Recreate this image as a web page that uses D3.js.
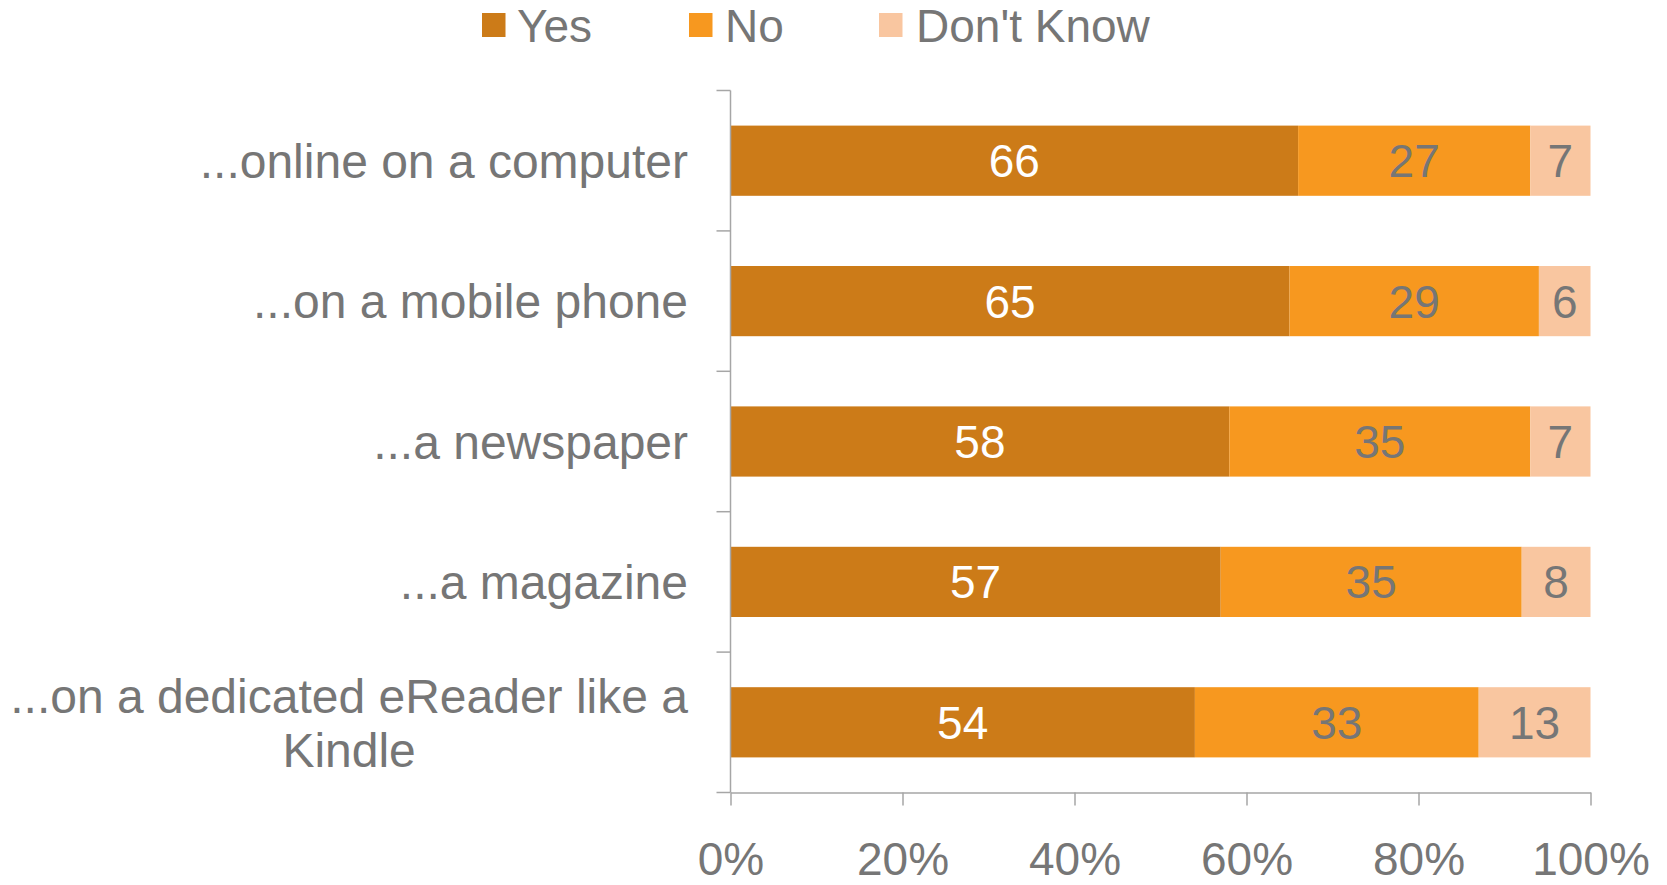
<!DOCTYPE html>
<html>
<head>
<meta charset="utf-8">
<script src="https://cdn.jsdelivr.net/npm/d3@7"></script>
<style>
  html, body { margin: 0; padding: 0; background: #fff; }
  svg { display: block; }
  text { font-family: "Liberation Sans", Arial, sans-serif; }
</style>
</head>
<body>
<svg id="chart" width="1667" height="885"></svg>
<script>
const categories = [
  "...online on a computer",
  "...on a mobile phone",
  "...a newspaper",
  "...a magazine",
  "...on a dedicated eReader like a Kindle"
];
const seriesNames = ["Yes", "No", "Don't Know"];
const yesValues = [66, 65, 58, 57, 54];
const noValues = [27, 29, 35, 35, 33];
const dkValues = [7, 6, 7, 8, 13];
const tickValues = [0, 20, 40, 60, 80, 100];
const tickLabels = ["0%", "20%", "40%", "60%", "80%", "100%"];

const colors = ["#CC7B18", "#F7981F", "#F9C6A0"];
const labelColors = ["#FFFFFF", "#767676", "#767676"];
const textGray = "#767676";
const axisGray = "#A6A6A6";

const svg = d3.select("#chart");

const rows = categories.map((c, i) => ({ cat: c, "Yes": yesValues[i], "No": noValues[i], "Don't Know": dkValues[i] }));
const stacked = d3.stack().keys(seriesNames)(rows);

const x = d3.scaleLinear().domain([0, 100]).range([730.5, 1590.5]);
const y = d3.scaleBand().domain(categories).range([90.5, 792.5]).paddingInner(0.5).paddingOuter(0.25);

// bars
const g = svg.append("g");
stacked.forEach((s, si) => {
  const sg = g.append("g");
  sg.selectAll("rect").data(s).enter().append("rect")
    .attr("x", d => x(d[0]))
    .attr("y", d => y(d.data.cat))
    .attr("width", d => x(d[1]) - x(d[0]))
    .attr("height", y.bandwidth())
    .attr("fill", colors[si]);
  sg.selectAll("text").data(s).enter().append("text")
    .attr("x", d => (x(d[0]) + x(d[1])) / 2)
    .attr("y", d => y(d.data.cat) + y.bandwidth() / 2)
    .attr("dy", "0.36em")
    .attr("text-anchor", "middle")
    .attr("font-size", 46)
    .attr("fill", labelColors[si])
    .text(d => d[1] - d[0]);
});

// y axis (category ticks at band boundaries)
const yTop = 90.5, yBottom = 792.5;
const bandStep = (yBottom - yTop) / categories.length;
const axG = svg.append("g").attr("stroke", axisGray).attr("stroke-width", 1.5);
axG.append("line").attr("x1", x(0)).attr("x2", x(0)).attr("y1", yTop).attr("y2", yBottom);
d3.range(categories.length + 1).forEach(i => {
  axG.append("line").attr("x1", x(0) - 14).attr("x2", x(0))
    .attr("y1", yTop + i * bandStep).attr("y2", yTop + i * bandStep);
});

// x axis
const xAxis = d3.axisBottom(x).tickValues(tickValues).tickSize(13).tickSizeOuter(0)
  .tickFormat((d, i) => tickLabels[i]);
const xg = svg.append("g").attr("transform", `translate(0,${yBottom})`).call(xAxis);
xg.select(".domain").attr("stroke", axisGray).attr("stroke-width", 1.5);
xg.selectAll(".tick line").attr("stroke", axisGray).attr("stroke-width", 1.5);
xg.selectAll(".tick text")
  .attr("font-size", 46)
  .attr("font-family", "'Liberation Sans', Arial, sans-serif")
  .attr("fill", textGray)
  .attr("y", 82)
  .attr("dy", 0);

// category labels with wrapping, lines centered within block, block right-aligned
const labelRight = 688;
const maxW = 690;
categories.forEach(c => {
  const t = svg.append("text")
    .attr("font-size", 48)
    .attr("fill", textGray)
    .attr("text-anchor", "middle");
  const words = c.split(" ");
  const lines = [];
  let cur = [];
  const probe = svg.append("text").attr("font-size", 48).attr("font-family", "'Liberation Sans', Arial, sans-serif");
  words.forEach(w => {
    const test = cur.concat([w]).join(" ");
    probe.text(test);
    if (probe.node().getComputedTextLength() > maxW && cur.length) {
      lines.push(cur.join(" "));
      cur = [w];
    } else cur.push(w);
  });
  lines.push(cur.join(" "));
  let widest = 0;
  lines.forEach(l => { probe.text(l); widest = Math.max(widest, probe.node().getComputedTextLength()); });
  probe.remove();
  const cx = labelRight - widest / 2;
  const lh = 54;
  const cy = y(c) + y.bandwidth() / 2;
  lines.forEach((l, i) => {
    t.append("tspan")
      .attr("x", cx)
      .attr("y", cy + (i - (lines.length - 1) / 2) * lh)
      .attr("dy", "0.36em")
      .text(l);
  });
});

// legend
const legendItems = [
  { name: seriesNames[0], color: colors[0], sx: 482, tx: 517 },
  { name: seriesNames[1], color: colors[1], sx: 689, tx: 725 },
  { name: seriesNames[2], color: colors[2], sx: 879, tx: 916 }
];
const lg = svg.append("g");
legendItems.forEach(it => {
  lg.append("rect").attr("x", it.sx).attr("y", 13).attr("width", 23.5).attr("height", 24).attr("fill", it.color);
  lg.append("text").attr("x", it.tx).attr("y", 42).attr("font-size", 46).attr("fill", textGray).text(it.name);
});
</script>
</body>
</html>
